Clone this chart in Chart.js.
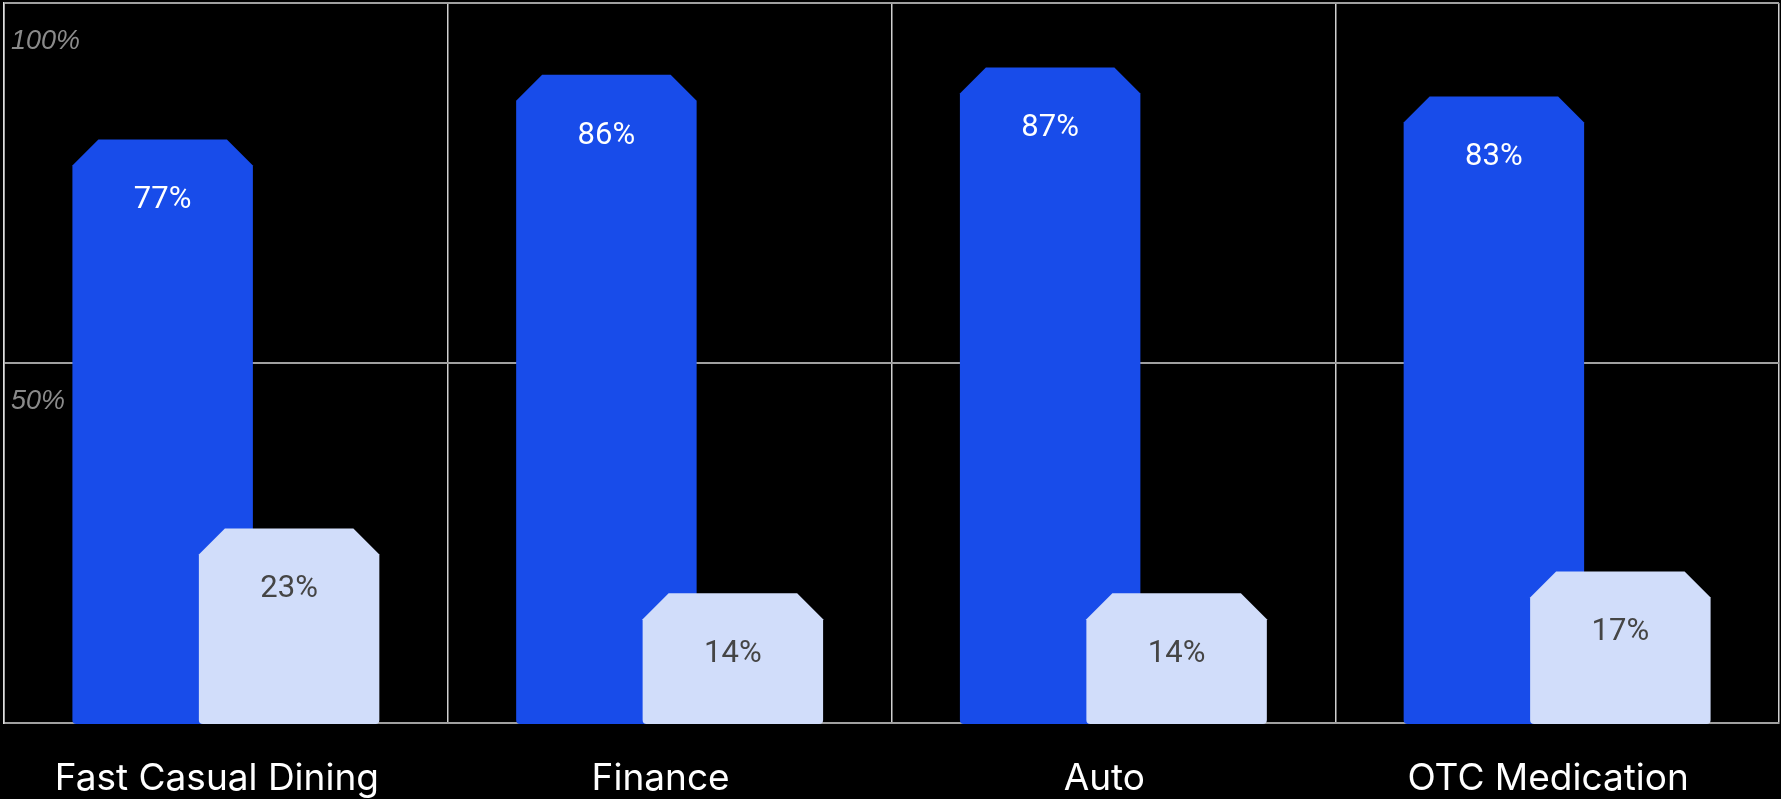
<!DOCTYPE html>
<html>
<head>
<meta charset="utf-8">
<script src="https://cdn.jsdelivr.net/npm/chart.js@4.4.1/dist/chart.umd.min.js"></script>
<style>
  html, body { margin: 0; padding: 0; background: #000; }
  canvas { display: block; }
</style>
</head>
<body>
<canvas id="chart" width="1781" height="799"></canvas>
<script>
// values per category, in percent
const categories = ['Fast Casual Dining', 'Finance', 'Auto', 'OTC Medication'];
const seriesA = [77, 86, 87, 83];
const seriesB = [23, 14, 14, 17];
const yTicks = [0, 50, 100];

const BLUE = '#184cea';
const LIGHT = '#d1ddfa';
const CAP = 29;      // cut-corner cap that sits on top of each bar
const CUT = 26;      // size of the 45° corner cut
const RADIUS = 4;    // small rounding at the bottom corners

// draws each bar as a column with clipped top corners and its value inside
const chamferBars = {
  id: 'chamferBars',
  beforeDatasetsDraw(chart) {
    const ctx = chart.ctx;
    ctx.save();
    chart.data.datasets.forEach((ds, i) => {
      const meta = chart.getDatasetMeta(i);
      meta.data.forEach((bar, j) => {
        const p = bar.getProps(['x', 'y', 'base', 'width'], true);
        const l = p.x - p.width / 2, r = p.x + p.width / 2;
        const top = p.y - CAP, bottom = p.base + 2;
        ctx.beginPath();
        ctx.moveTo(l, bottom - RADIUS);
        ctx.lineTo(l, top + CUT);
        ctx.lineTo(l + CUT, top);
        ctx.lineTo(r - CUT, top);
        ctx.lineTo(r, top + CUT);
        ctx.lineTo(r, bottom - RADIUS);
        ctx.quadraticCurveTo(r, bottom, r - RADIUS, bottom);
        ctx.lineTo(l + RADIUS, bottom);
        ctx.quadraticCurveTo(l, bottom, l, bottom - RADIUS);
        ctx.closePath();
        ctx.fillStyle = ds.backgroundColor;
        ctx.fill();

        ctx.font = '31px Roboto';
        ctx.fillStyle = ds.labelColor;
        ctx.textAlign = 'center';
        ctx.textBaseline = 'middle';
        ctx.fillText(ds.data[j] + '%', p.x, p.y + 32);
      });
    });
    ctx.restore();
    return false;
  }
};

new Chart(document.getElementById('chart'), {
  type: 'bar',
  data: {
    labels: categories,
    datasets: [
      { data: seriesA, backgroundColor: BLUE, labelColor: '#ffffff' },
      { data: seriesB, backgroundColor: LIGHT, labelColor: '#454545' }
    ]
  },
  options: {
    responsive: false,
    animation: false,
    events: [],
    layout: { padding: { left: 4, right: 2, top: 3, bottom: 0 } },
    categoryPercentage: 0.57,
    barPercentage: 1.427,
    plugins: { legend: { display: false }, tooltip: { enabled: false } },
    scales: {
      x: {
        afterFit: axis => {
          axis.height = 76;
          axis.paddingLeft = 0;
          axis.paddingRight = 0;
        },
        grid: { offset: true, color: '#cfcfcf', lineWidth: 1.5, drawTicks: false },
        border: { display: true, color: '#a0a0a0', width: 2 },
        ticks: {
          color: '#ffffff',
          font: { family: 'Inter', size: 37 },
          padding: 34,
          labelOffset: -9,
          maxRotation: 0,
          autoSkip: false
        }
      },
      y: {
        min: 0,
        max: 100,
        afterBuildTicks: axis => { axis.ticks = yTicks.map(v => ({ value: v })); },
        afterFit: axis => {
          axis.width = 0;
          axis.paddingTop = 0;
          axis.paddingBottom = 0;
        },
        grid: { color: '#a0a0a0', lineWidth: 2, drawTicks: false },
        border: { display: true, color: '#e0e0e0', width: 1.5 },
        ticks: {
          mirror: true,
          padding: 7,
          labelOffset: 38,
          color: '#8a8a8a',
          font: { family: 'Liberation Sans', style: 'italic', size: 27 },
          callback: v => (v === 0 ? '' : v + '%')
        }
      }
    }
  },
  plugins: [chamferBars]
});
</script>
</body>
</html>
